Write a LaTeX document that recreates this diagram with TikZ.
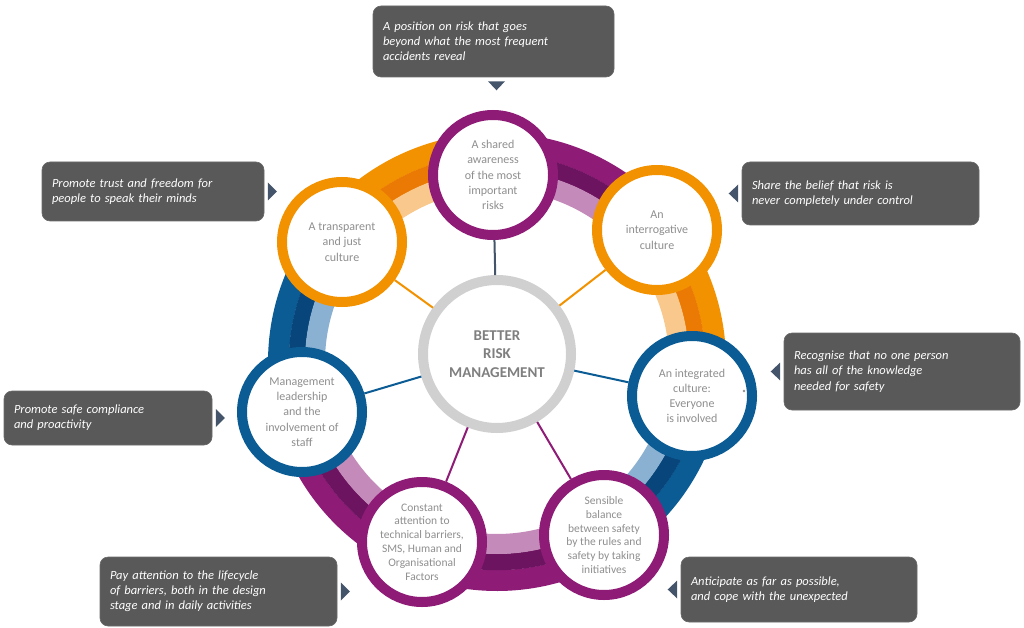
\documentclass[tikz,border=0pt]{standalone}
\usepackage{fontspec}
\setmainfont{Carlito}
\usetikzlibrary{calc}
\definecolor{orangeA}{HTML}{F39200}
\definecolor{orangeB}{HTML}{EB7A05}
\definecolor{orangeC}{HTML}{F9C88C}
\definecolor{purpleA}{HTML}{8E1B76}
\definecolor{purpleB}{HTML}{6C1460}
\definecolor{purpleC}{HTML}{C48AB9}
\definecolor{blueA}{HTML}{0B5C94}
\definecolor{blueB}{HTML}{07457A}
\definecolor{blueC}{HTML}{8BB1D2}
\definecolor{slate}{HTML}{44546A}
\definecolor{boxgray}{HTML}{595959}
\definecolor{boxedge}{HTML}{6A6A6A}
\definecolor{txtgray}{HTML}{8F8F8F}
\definecolor{hubgray}{HTML}{D0D0D0}
\definecolor{titlegray}{HTML}{7F7F7F}

\begin{document}
\begin{tikzpicture}[x=1pt, y=-1pt]
\tikzstyle{value}=[circle, draw, line width=10pt, fill=white, minimum size=120pt, inner sep=0pt, align=center, text=txtgray, font=\fontsize{12}{15.2}\selectfont]
\tikzstyle{small value}=[value, font=\fontsize{11.5}{13.8}\selectfont]
\tikzstyle{hub}=[circle, draw=hubgray, line width=10pt, fill=white, minimum size=148pt, inner sep=0pt, align=center, text=titlegray, font=\bfseries\fontsize{15}{18.5}\selectfont]
\tikzstyle{callout}=[rectangle, rounded corners=8pt, fill=boxgray, draw=boxedge, line width=0.6pt, text=white, align=left, inner xsep=10pt, inner ysep=0pt, font=\itshape\fontsize{12.5}{15.2}\selectfont]
\tikzstyle{spoke}=[line width=2pt]
\tikzstyle{tip}=[fill=slate]

\useasboundingbox (0,0) rectangle (1024,628);
\coordinate (ringc) at (497,362);

\foreach \a/\b/\col in {-142/-91/orange, -91/-39.5/purple, -39.5/10/orange, 10/58/blue, 58/166/purple, 166/218/blue}{
  \draw[line width=21pt, color=\col A] ($(ringc)+(\a:218.5)$) arc[start angle=\a, end angle=\b, radius=218.5];
  \draw[line width=16.5pt, color=\col B] ($(ringc)+(\a:200)$) arc[start angle=\a, end angle=\b, radius=200];
  \draw[line width=20pt, color=\col C] ($(ringc)+(\a:182)$) arc[start angle=\a, end angle=\b, radius=182];
}

\node[hub] (hub) at (497,354) {BETTER\\RISK\\MANAGEMENT};
\node[value, draw=purpleA] (aware) at (493,175) {A shared\\awareness\\of the most\\important\\risks};
\node[value, draw=orangeA] (interr) at (657,230) {An\\interrogative\\culture};
\node[value, draw=blueA] (integr) at (692,396) {An integrated\\culture:\\Everyone\\is involved};
\node[small value, draw=purpleA] (balance) at (604,535) {Sensible\\balance\\between safety\\by the rules and\\safety by taking\\initiatives};
\node[small value, draw=purpleA] (barrier) at (422,542) {Constant\\attention to\\technical barriers,\\SMS, Human and\\Organisational\\Factors};
\node[value, draw=blueA] (leader) at (302,412) {Management\\leadership\\and the\\involvement of\\staff};
\node[value, draw=orangeA] (transp) at (342,242) {A transparent\\and just\\culture};
\fill[txtgray] (744,391) circle (1.3);

\path[spoke]
(hub) edge[slate]   (aware)
      edge[orangeA] (interr)
      edge[blueA]   (integr)
      edge[purpleA] (balance)
      edge[purpleA] (barrier)
      edge[blueA]   (leader)
      edge[orangeA] (transp);

\node[callout, text width=221pt, minimum height=71pt] (position) at (493.5,41.5) {A position on risk that goes\\beyond what the most frequent\\accidents reveal};
\node[callout, text width=202pt, minimum height=59pt] (trust) at (153,191.5) {Promote trust and freedom for\\people to speak their minds};
\node[callout, text width=217pt, minimum height=63pt] (belief) at (860.5,193.5) {Share the belief that risk is\\never completely under control};
\node[callout, text width=216pt, minimum height=77pt] (recognise) at (902,371.5) {Recognise that no one person\\has all of the knowledge\\needed for safety};
\node[callout, text width=188pt, minimum height=54pt] (compliance) at (108,418) {Promote safe compliance\\and proactivity};
\node[callout, text width=217pt, minimum height=69pt] (lifecycle) at (218.5,591.5) {Pay attention to the lifecycle\\of barriers, both in the design\\stage and in daily activities};
\node[callout, text width=216pt, minimum height=65pt] (anticipate) at (799,589.5) {Anticipate as far as possible,\\and cope with the unexpected};

\fill[tip] ($(position.south)+(-5.5,4)$) -- ++(17,0) -- ++(-8.5,9) -- cycle;
\foreach \n in {trust, compliance, lifecycle}
  \fill[tip] ($(\n.east)+(3.5,-9)$) -- ++(9,9) -- ++(-9,9) -- cycle;
\foreach \n in {belief, recognise, anticipate}
  \fill[tip] ($(\n.west)+(-3.5,-9)$) -- ++(-9.5,9) -- ++(9.5,9) -- cycle;
\end{tikzpicture}
\end{document}
